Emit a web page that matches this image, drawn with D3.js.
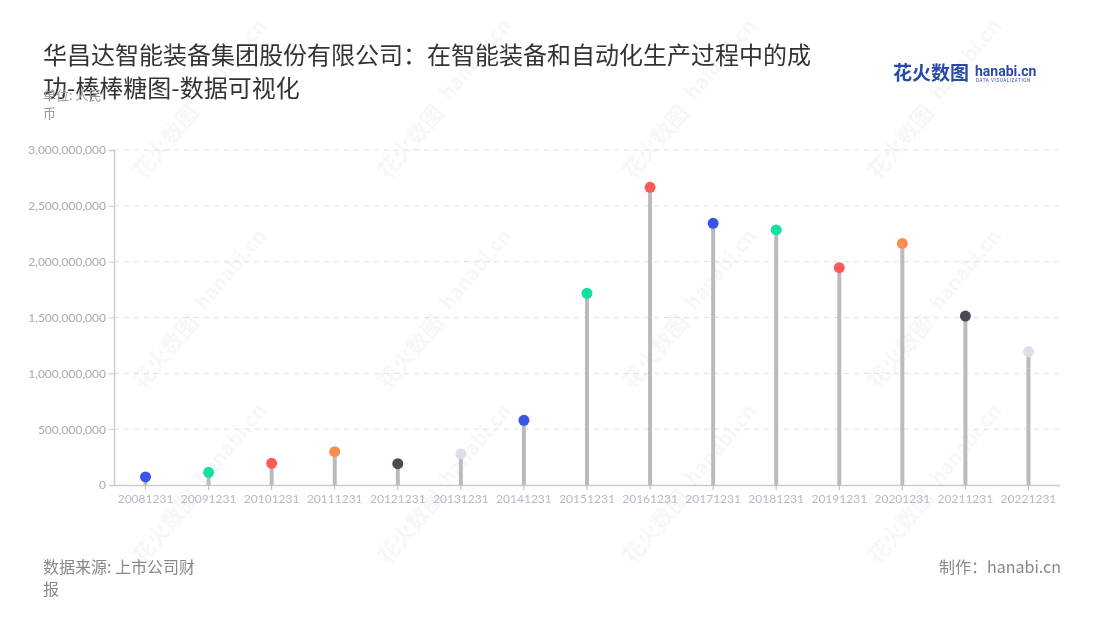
<!DOCTYPE html>
<html><head><meta charset="utf-8">
<script src="https://cdn.jsdelivr.net/npm/d3@7"></script>
<style>
body{margin:0;background:#fff;font-family:"Noto Sans CJK SC","Noto Sans",sans-serif;}
svg{display:block}
</style></head>
<body>
<svg id="c" width="1100" height="620"></svg>
<script>
const categories = ["20081231","20091231","20101231","20111231","20121231","20131231","20141231","20151231","20161231","20171231","20181231","20191231","20201231","20211231","20221231"];
const values = [72000000,114000000,194000000,298000000,191000000,278000000,579000000,1717000000,2666000000,2343000000,2284000000,1946000000,2163000000,1513000000,1195000000];
const colors = ["#3a55e6","#14e0a2","#ff5b56","#ff8c4e","#4b4b55","#dcdfe9","#3a55e6","#14e0a2","#ff5b56","#3a55e6","#14e0a2","#ff5b56","#ff8c4e","#4b4b55","#dcdfe9"];
const yTicks = [0,500000000,1000000000,1500000000,2000000000,2500000000,3000000000];

const svg = d3.select("#c");
const m = {l:114, r:1060, t:150, b:485};

// watermarks
const wm = svg.append("g").attr("opacity",0.45);
[[150,370],[395,370],[640,370],[885,370],[150,160],[395,160],[640,160],[885,160],[395,545],[640,545],[885,545],[150,545]].forEach(([x,y])=>{
  const g = wm.append("g").attr("transform",`translate(${x},${y}) rotate(-50)`);
  g.append("text").attr("x",-20).attr("y",8).attr("font-size",22).attr("font-weight","bold").attr("fill","#eceef2").text("花火数图");
  g.append("text").attr("x",80).attr("y",4).attr("font-size",20).attr("font-weight","bold").attr("fill","#eceef2").text("hanabi.cn");
});

const x = d3.scaleBand().domain(categories).range([m.l,m.r]);
const y = d3.scaleLinear().domain([0,3000000000]).range([m.b,m.t]);

// grid
svg.append("g").selectAll("line").data(yTicks.slice(1)).join("line")
  .attr("x1",m.l).attr("x2",m.r).attr("y1",d=>y(d)).attr("y2",d=>y(d))
  .attr("stroke","#e0e0e0").attr("stroke-dasharray","5,5");

// y axis
const ya = svg.append("g").attr("transform",`translate(${m.l},0)`)
  .call(d3.axisLeft(y).tickValues(yTicks).tickFormat(d3.format(",")).tickSize(5).tickPadding(3));
ya.select(".domain").attr("stroke","#ccc").attr("stroke-width",1.5);
ya.selectAll(".tick line").attr("stroke","#ccc");
ya.selectAll("text").attr("fill","#aaa").attr("font-size",12).attr("font-family","Lato, 'Noto Sans', sans-serif");

// stems
svg.append("g").selectAll("line").data(values).join("line")
  .attr("x1",(d,i)=>x(categories[i])+x.bandwidth()/2)
  .attr("x2",(d,i)=>x(categories[i])+x.bandwidth()/2)
  .attr("y1",y(0)).attr("y2",d=>y(d))
  .attr("stroke","#bbbbbb").attr("stroke-width",4);

// x axis
const xa = svg.append("g").attr("transform",`translate(0,${m.b})`)
  .call(d3.axisBottom(x).tickSize(5).tickSizeOuter(0).tickPadding(4));
xa.select(".domain").attr("stroke","#ccc").attr("stroke-width",1.5);
xa.selectAll(".tick line").attr("stroke","#bbb");
xa.selectAll("text").attr("fill","#b5b9c6").attr("font-size",12).attr("font-family","Lato, 'Noto Sans', sans-serif");

// dots
svg.append("g").selectAll("circle").data(values).join("circle")
  .attr("cx",(d,i)=>x(categories[i])+x.bandwidth()/2)
  .attr("cy",d=>y(d)).attr("r",5.5)
  .attr("fill",(d,i)=>colors[i]);

// title
const t = svg.append("text").attr("x",43).attr("fill","#333").attr("font-size",24);
t.append("tspan").attr("x",43).attr("y",64).text("华昌达智能装备集团股份有限公司：在智能装备和自动化生产过程中的成");
t.append("tspan").attr("x",43).attr("y",97).text("功-棒棒糖图-数据可视化");

const u = svg.append("text").attr("fill","#999").attr("font-size",13);
u.append("tspan").attr("x",43).attr("y",100).text("单位: 人民");
u.append("tspan").attr("x",43).attr("y",118).text("币");

// logo
svg.append("text").attr("x",893).attr("y",80).attr("font-size",19).attr("font-weight","bold").attr("fill","#2a4aa8").text("花火数图");
svg.append("text").attr("x",975).attr("y",76).attr("font-size",14).attr("font-weight","bold").attr("fill","#2a4aa8").attr("font-family","Roboto, sans-serif").text("hanabi.cn");
svg.append("text").attr("x",976).attr("y",82).attr("font-size",4.5).attr("fill","#2a4aa8").attr("font-family","Roboto, sans-serif").attr("letter-spacing",0.6).text("DATA VISUALIZATION");

// footer
const f = svg.append("text").attr("fill","#888").attr("font-size",16);
f.append("tspan").attr("x",43).attr("y",573).text("数据来源: 上市公司财");
f.append("tspan").attr("x",43).attr("y",595).text("报");
svg.append("text").attr("x",1061).attr("y",573).attr("text-anchor","end").attr("fill","#888").attr("font-size",16).text("制作：hanabi.cn");
</script>
</body></html>
